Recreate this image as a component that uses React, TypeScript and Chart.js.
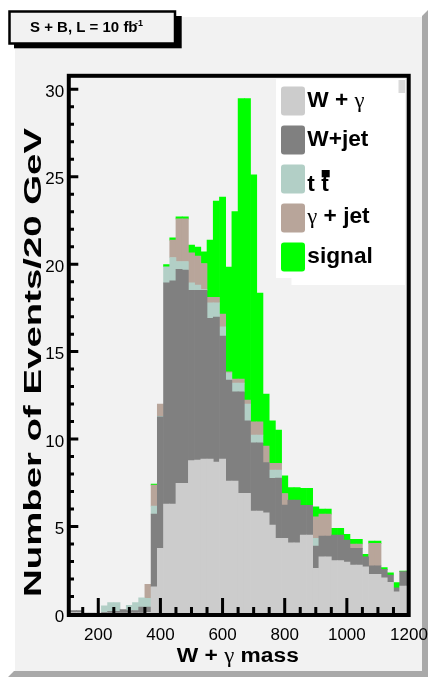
import { useEffect, useRef } from 'react';
import { Chart, registerables } from 'chart.js';

Chart.register(...registerables);

// ---- data ----
const BIN_CENTERS = [
  100, 120, 140, 160, 180, 200, 220, 240, 260, 280, 300, 320, 340, 360, 380, 400, 420, 440, 460, 480,
  500, 520, 540, 560, 580, 600, 620, 640, 660, 680, 700, 720, 740, 760, 780, 800, 820, 840, 860, 880,
  900, 920, 940, 960, 980, 1000, 1020, 1040, 1060, 1080, 1100, 1120, 1140, 1160, 1180, 1200,
];

const W_GAMMA = [
  0, 0.08, 0.08, 0.08, 0.08, 0.05, 0.05, 0.05, 0.05, 0.05, 0.05, 0.05, 0.05, 0.1, 1.56, 3.75, 6.29, 6.29, 7.47, 7.47,
  8.77, 8.8, 8.86, 8.86, 8.69, 8.86, 7.6, 7.6, 6.9, 6.9, 5.89, 5.89, 5.79, 5.09, 4.33, 4.33, 4.07, 4.07, 4.51, 4.51,
  2.61, 3.27, 3.27, 3.05, 3.05, 2.97, 2.8, 2.8, 2.7, 2.27, 2.27, 2.07, 1.81, 1.27, 1.6, 1.6,
];

const W_JET = [
  0, 0.12, 0.12, 0, 0, 0, 0.05, 0.1, 0.1, 0.2, 0.15, 0.15, 0.35, 0.3, 4.15, 7.52, 12.64, 12.76, 12.23, 12.19,
  9.74, 9.71, 9.65, 8.04, 8.28, 7.03, 5.77, 5.1, 5.8, 4.15, 3.9, 3.9, 2.86, 2.66, 3.44, 1.9, 2.44, 2.44, 1.7, 1.7,
  1.28, 1.19, 1.19, 1.46, 1.46, 1.26, 0.95, 0.95, 0.57, 0.49, 0.49, 0.48, 0.42, 0.22, 0.82, 0.82,
];

const TTBAR = [
  0, 0, 0, 0, 0, 0, 0.36, 0.5, 0.5, 0, 0.3, 0.45, 0.52, 0.5, 0.46, 0.03, 0.92, 1.33, 0.45, 0.49,
  0.42, 0.29, 0.04, 0.89, 0.82, 0.53, 0.42, 0.5, 0.5, 0.95, 0.44, 0.44, 0, 0.48, 0.46, 0, 0, 0, 0, 0,
  0.44, 0, 0, 0, 0, 0, 0, 0, 0, 0, 0, 0, 0, 0, 0, 0,
];

const GAMMA_JET = [
  0, 0, 0, 0, 0, 0, 0, 0, 0, 0, 0, 0, 0, 0.8, 1.2, 0.7, 0, 0.99, 2.44, 2.44,
  1.72, 1.66, 1.49, 0.31, 0.31, 0.72, 0.05, 0.23, 0.23, 0.23, 0.76, 0.76, 0.95, 0.38, 0.38, 0.66, 0, 0, 0, 0,
  1.23, 1.25, 1.25, 0, 0, 0, 0.25, 0.25, 0, 1.28, 1.28, 0, 0, 0, 0, 0,
];

const SIGNAL = [
  0, 0, 0, 0, 0, 0, 0, 0, 0, 0, 0, 0, 0, 0, 0.06, 0, 0.13, 0.13, 0.11, 0.11,
  0.44, 0.51, 0.66, 3.27, 5.5, 6.69, 6.0, 9.57, 16.04, 17.24, 14.11, 7.35, 2.97, 2.44, 1.9, 1.01, 0.72, 0.72, 0.97, 0.97,
  0.57, 0.29, 0.29, 0.39, 0.39, 0.32, 0.27, 0.27, 0.14, 0.13, 0.13, 0.1, 0.13, 0.3, 0.04, 0.04,
];

const X_TICKS = [200, 400, 600, 800, 1000, 1200];
const Y_TICKS = [0, 5, 10, 15, 20, 25, 30];

const SERIES = [
  { key: 'wgamma', values: W_GAMMA, color: '#cccccc' },
  { key: 'wjet', values: W_JET, color: '#808080' },
  { key: 'ttbar', values: TTBAR, color: '#b2cfc6' },
  { key: 'gjet', values: GAMMA_JET, color: '#b8a59a' },
  { key: 'signal', values: SIGNAL, color: '#00ff00' },
];

const TITLE_TEXT = 'S + B, L = 10 fb';
const X_TITLE = ['W + ', 'γ', ' mass'];
const Y_TITLE = 'Number of Events/20 GeV';

// ---- styling ----
const SANS = '"Liberation Sans", Arial, Helvetica, sans-serif';
const SERIF = '"Liberation Serif", "DejaVu Serif", serif';
const bold = (px: number) => `bold ${px}px ${SANS}`;
const sym = (px: number) => `${px}px ${SERIF}`;

type Part = { t: string; f: string; dy?: number; dx?: number };

function drawParts(
  ctx: CanvasRenderingContext2D,
  parts: Part[],
  x: number,
  y: number,
  opts: { align?: 'left' | 'center'; width?: number; sx?: number } = {},
) {
  ctx.save();
  let w = 0;
  for (const p of parts) {
    ctx.font = p.f;
    w += ctx.measureText(p.t).width + (p.dx || 0);
  }
  const sx = opts.width ? opts.width / w : opts.sx || 1;
  const total = w * sx;
  const x0 = opts.align === 'center' ? x - total / 2 : x;
  ctx.translate(x0, y);
  ctx.scale(sx, 1);
  ctx.textAlign = 'left';
  ctx.textBaseline = 'alphabetic';
  ctx.fillStyle = '#000';
  let cx = 0;
  for (const p of parts) {
    ctx.font = p.f;
    cx += p.dx || 0;
    ctx.fillText(p.t, cx, p.dy || 0);
    cx += ctx.measureText(p.t).width;
  }
  ctx.restore();
}

const decor = {
  id: 'rootDecor',
  beforeDraw(chart: any) {
    const ctx: CanvasRenderingContext2D = chart.ctx;
    const W = chart.width;
    const H = chart.height;
    ctx.save();
    ctx.fillStyle = '#ffffff';
    ctx.fillRect(0, 0, W, H);
    // pad with bevel
    const L = 8, T = 10, R = 428, B = 677, b = 6;
    ctx.fillStyle = '#a9a9a9';
    ctx.beginPath();
    ctx.moveTo(R, T);
    ctx.lineTo(R, B);
    ctx.lineTo(L, B);
    ctx.lineTo(L + b, B - b);
    ctx.lineTo(R - b, B - b);
    ctx.lineTo(R - b, T + b);
    ctx.closePath();
    ctx.fill();
    ctx.fillStyle = '#f2f2f2';
    ctx.fillRect(L + b + 1, T + b + 1, R - L - 2 * b - 1, B - T - 2 * b - 1);

    // title box with shadow
    ctx.fillStyle = '#000';
    ctx.fillRect(14, 16, 167.7, 32.3);
    ctx.fillStyle = '#f2f2f2';
    ctx.fillRect(8.5, 10.5, 167, 33.5);
    ctx.strokeStyle = '#000';
    ctx.lineWidth = 2.5;
    ctx.strokeRect(9.5, 11.5, 165.5, 32);
    drawParts(
      ctx,
      [
        { t: TITLE_TEXT, f: bold(15) },
        { t: '-1', f: bold(9), dy: -6, dx: -2.5 },
      ],
      30,
      31.7,
    );
    ctx.restore();
  },
  afterDatasetsDraw(chart: any) {
    const ctx: CanvasRenderingContext2D = chart.ctx;
    const xs = chart.scales.x;
    const ys = chart.scales.y;
    const ca = chart.chartArea;
    ctx.save();
    ctx.strokeStyle = '#000';
    ctx.lineWidth = 3;
    ctx.lineCap = 'butt';
    ctx.beginPath();
    for (let v = 150; v < 1200; v += 50) {
      const px = xs.getPixelForValue(v);
      const len = v % 200 === 0 ? 16 : 7;
      ctx.moveTo(px, ca.bottom);
      ctx.lineTo(px, ca.bottom - len);
    }
    for (let v = 1; v <= 30; v++) {
      const py = ys.getPixelForValue(v);
      const len = v % 5 === 0 ? 10.3 : 6;
      ctx.moveTo(68, py);
      ctx.lineTo(68 + len, py);
    }
    ctx.stroke();

    // frame
    ctx.lineWidth = 4;
    ctx.strokeRect(68.8, 75.8, 339.9, 539.2);

    // legend box
    ctx.fillStyle = '#ffffff';
    ctx.fillRect(276, 79, 129, 199);
    ctx.fillRect(291.5, 79, 113.5, 206);
    ctx.fillStyle = '#d9d9d9';
    ctx.fillRect(398.5, 80, 6.5, 13);

    const tops = [86.5, 125.5, 164.5, 203.5, 242.5];
    for (let i = 0; i < 5; i++) {
      ctx.fillStyle = SERIES[i].color;
      ctx.beginPath();
      (ctx as any).roundRect(281, tops[i], 24, 29, 3);
      ctx.fill();
    }
    const tx = 307.3;
    const sx = 1.03;
    drawParts(ctx, [{ t: 'W + ', f: bold(22) }, { t: 'γ', f: sym(22) }], tx, 106.5, { sx });
    drawParts(ctx, [{ t: 'W+jet', f: bold(22) }], tx, 145.5, { sx });
    drawParts(ctx, [{ t: 't t', f: bold(22) }], tx, 191, { sx });
    ctx.fillStyle = '#000';
    ctx.fillRect(321.7, 170, 8, 7.3);
    drawParts(ctx, [{ t: 'γ', f: sym(22) }, { t: ' + jet', f: bold(22) }], tx, 223, { sx });
    drawParts(ctx, [{ t: 'signal', f: bold(22) }], tx, 263, { sx });

    // axis titles
    drawParts(
      ctx,
      [
        { t: X_TITLE[0], f: bold(20) },
        { t: X_TITLE[1], f: sym(20) },
        { t: X_TITLE[2], f: bold(20) },
      ],
      237.8,
      662,
      { align: 'center', width: 122 },
    );
    ctx.save();
    ctx.translate(41, 362.5);
    ctx.rotate(-Math.PI / 2);
    drawParts(ctx, [{ t: Y_TITLE, f: bold(24) }], 0, 0, { align: 'center', width: 469 });
    ctx.restore();
    ctx.restore();
  },
};

export default function App() {
  const ref = useRef<HTMLCanvasElement>(null);
  useEffect(() => {
    document.body.style.margin = '0';
    const canvas = ref.current!;
    const chart = new Chart(canvas, {
      type: 'bar',
      data: {
        datasets: SERIES.map((s) => ({
          label: s.key,
          data: BIN_CENTERS.map((x, i) => ({ x, y: s.values[i] > 0 ? s.values[i] : null })),
          backgroundColor: s.color,
          borderWidth: 0,
          barPercentage: 1,
          categoryPercentage: 1,
        })),
      },
      options: {
        animation: false,
        responsive: false,
        maintainAspectRatio: false,
        devicePixelRatio: 1,
        layout: { padding: { left: 0, top: 77, right: 19, bottom: 0 } },
        plugins: { legend: { display: false }, tooltip: { enabled: false }, title: { display: false } },
        scales: {
          x: {
            type: 'linear',
            min: 100,
            max: 1200,
            stacked: true,
            offset: false,
            grid: { display: false, drawTicks: false },
            border: { display: false },
            ticks: {
              color: '#000',
              font: { family: SANS, size: 17 },
              padding: 11,
              maxRotation: 0,
              autoSkip: false,
              callback: (v: any) => String(v),
            },
            afterBuildTicks: (s: any) => {
              s.ticks = X_TICKS.map((v) => ({ value: v }));
            },
            afterFit: (s: any) => {
              s.height = 63;
              s.paddingLeft = 0;
              s.paddingRight = 0;
            },
          },
          y: {
            type: 'linear',
            min: 0,
            max: 30.7,
            stacked: true,
            grid: { display: false, drawTicks: false },
            border: { display: false },
            ticks: {
              color: '#000',
              font: { family: SANS, size: 17 },
              padding: 3,
              autoSkip: false,
              labelOffset: 3,
              callback: (v: any) => String(v),
            },
            afterBuildTicks: (s: any) => {
              s.ticks = Y_TICKS.map((v) => ({ value: v }));
            },
            afterFit: (s: any) => {
              s.width = 67.2;
              s.paddingTop = 0;
              s.paddingBottom = 0;
            },
          },
        },
      } as any,
      plugins: [decor],
    });
    return () => chart.destroy();
  }, []);
  return <canvas ref={ref} width={428} height={677} style={{ display: 'block', width: 428, height: 677 }} />;
}
